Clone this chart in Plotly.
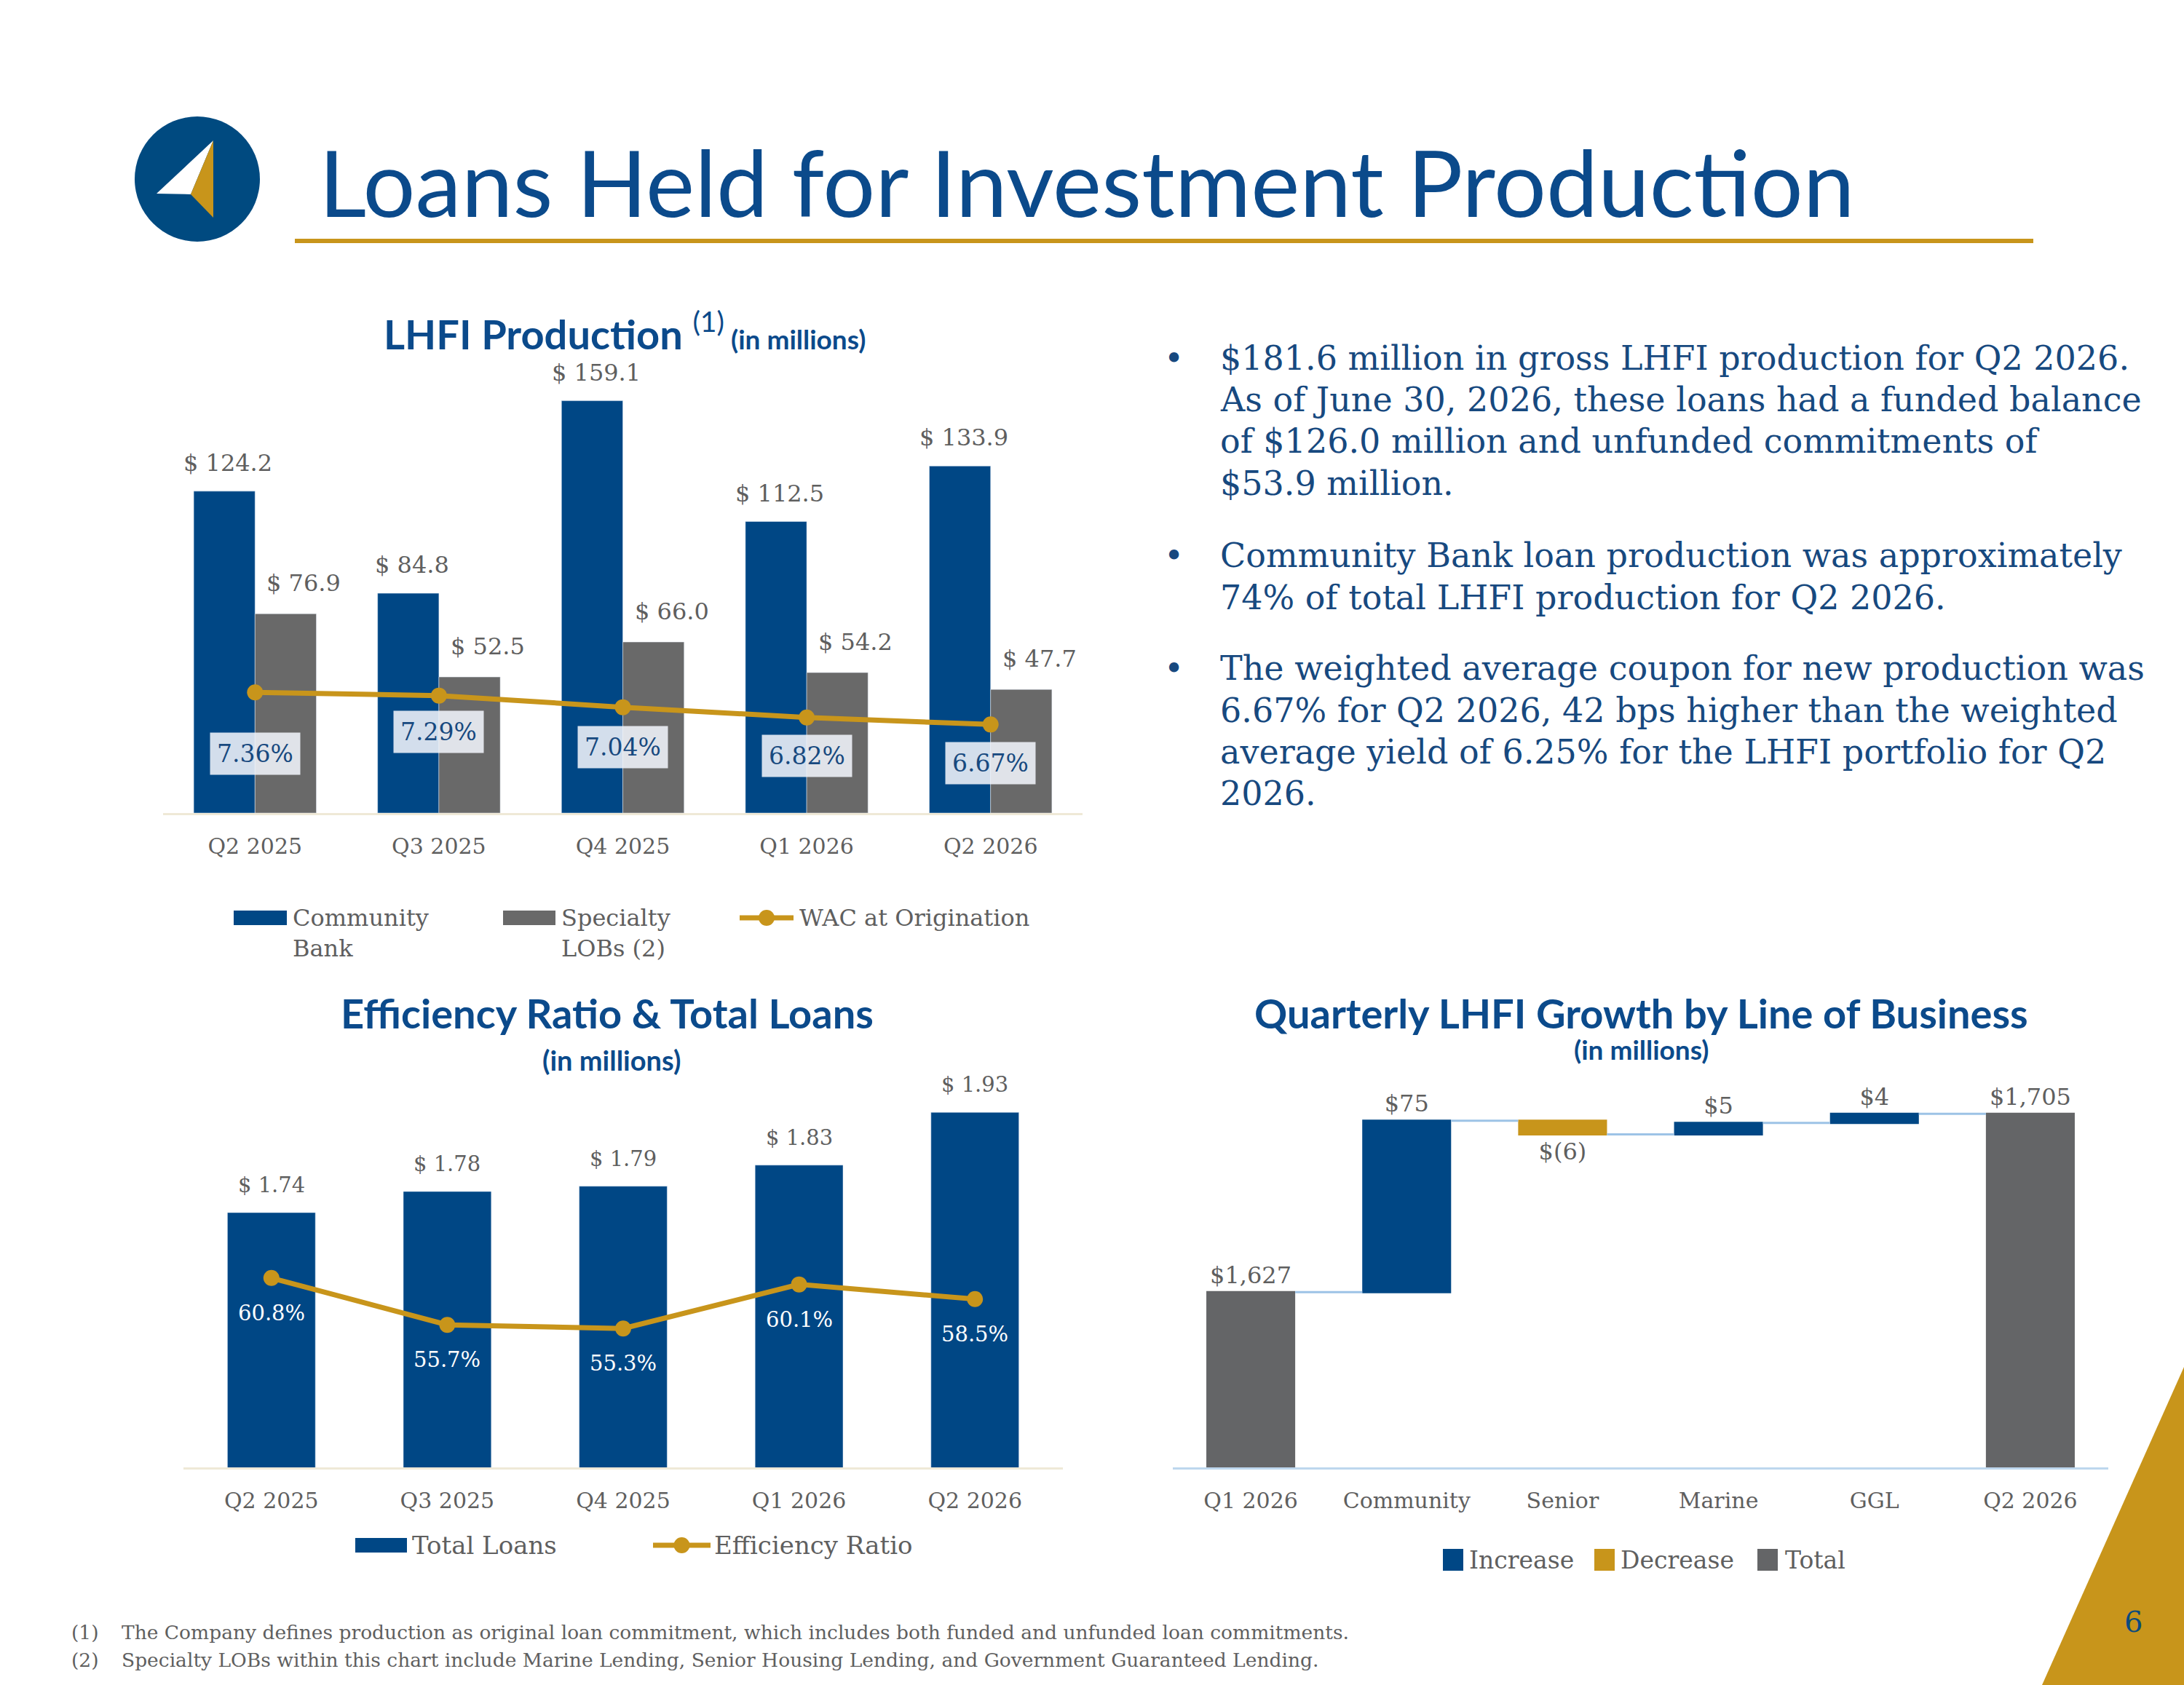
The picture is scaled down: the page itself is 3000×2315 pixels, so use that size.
import plotly.graph_objects as go

W, H = 3000, 2315


def X(px):
    return px / W


def Y(py):
    return 1 - py / H


# ---------------- data ----------------
quarters = ["Q2 2025", "Q3 2025", "Q4 2025", "Q1 2026", "Q2 2026"]
community_bank = [124.2, 84.8, 159.1, 112.5, 133.9]
specialty_lobs = [76.9, 52.5, 66.0, 54.2, 47.7]
wac_origination = [7.36, 7.29, 7.04, 6.82, 6.67]

total_loans = [1.74, 1.78, 1.79, 1.83, 1.93]
efficiency_ratio = [60.8, 55.7, 55.3, 60.1, 58.5]

lob_categories = ["Q1 2026", "Community", "Senior", "Marine", "GGL", "Q2 2026"]
lob_measures = ["absolute", "relative", "relative", "relative", "relative", "total"]
lob_values = [1627, 75, -6, 5, 4, None]

# style-only offsets for the WAC labels (pixels)
wac_label_shift = [-84, -50, -55, -53, -53]

# ---------------- styles ----------------
BLUE = "#004785"
GRAY = "#696969"
WF_GRAY = "#646567"
GOLD = "#C8951B"
TITLE_BLUE = "#0B4A8B"
TEXT_BLUE = "#17497F"
LABEL_GRAY = "#5F5F5F"
SERIF = "DejaVu Serif, Liberation Serif, serif"
SANS = "Lato, Open Sans, sans-serif"

fig = go.Figure()

# ---------------- chart 1: LHFI production ----------------
fig.add_trace(go.Bar(x=quarters, y=community_bank, name="Community Bank",
                     marker_color=BLUE, offset=-1/3, width=1/3,
                     xaxis="x", yaxis="y"))
fig.add_trace(go.Bar(x=quarters, y=specialty_lobs, name="Specialty LOBs (2)",
                     marker_color=GRAY, offset=0, width=1/3,
                     xaxis="x", yaxis="y"))
fig.add_trace(go.Scatter(x=quarters, y=wac_origination, name="WAC at Origination",
                         mode="lines+markers", line=dict(color=GOLD, width=7),
                         marker=dict(color=GOLD, size=22),
                         xaxis="x", yaxis="y2"))

# ---------------- chart 2: efficiency ratio & total loans ----------------
fig.add_trace(go.Bar(x=quarters, y=total_loans, name="Total Loans",
                     marker_color=BLUE, width=0.5,
                     xaxis="x2", yaxis="y3"))
fig.add_trace(go.Scatter(x=quarters, y=efficiency_ratio, name="Efficiency Ratio",
                         mode="lines+markers", line=dict(color=GOLD, width=7),
                         marker=dict(color=GOLD, size=22),
                         xaxis="x2", yaxis="y4"))

# ---------------- chart 3: waterfall ----------------
running = []
s = 0
for m, v in zip(lob_measures, lob_values):
    if m == "absolute":
        s = v
        running.append(s)
    elif m == "relative":
        s += v
        running.append(v)
    else:
        running.append(s)


def money(v):
    return "$({:,})".format(abs(v)) if v < 0 else "${:,}".format(v)


wf_text = [money(v) for v in running]

fig.add_trace(go.Waterfall(x=lob_categories, y=lob_values, measure=lob_measures,
                           text=wf_text, textposition="outside",
                           textfont=dict(family=SERIF, size=32, color=LABEL_GRAY),
                           constraintext="none",
                           increasing=dict(marker=dict(color=BLUE)),
                           decreasing=dict(marker=dict(color=GOLD)),
                           totals=dict(marker=dict(color=WF_GRAY)),
                           connector=dict(mode="between",
                                          line=dict(color="#9DC3E6", width=3)),
                           cliponaxis=False,
                           xaxis="x3", yaxis="y5"))

annotations = []

# chart 1 labels
for q, v in zip(quarters, community_bank):
    annotations.append(dict(x=q, y=v, xref="x", yref="y", text="$ {:.1f}".format(v),
                            showarrow=False, xshift=-37, yshift=39,
                            font=dict(family=SERIF, size=32, color=LABEL_GRAY)))
for q, v in zip(quarters, specialty_lobs):
    annotations.append(dict(x=q, y=v, xref="x", yref="y", text="$ {:.1f}".format(v),
                            showarrow=False, xshift=67, yshift=42,
                            font=dict(family=SERIF, size=32, color=LABEL_GRAY)))
for q, v, sh in zip(quarters, wac_origination, wac_label_shift):
    annotations.append(dict(x=q, y=v, xref="x", yref="y2", text="{:.2f}%".format(v),
                            showarrow=False, yshift=sh,
                            bgcolor="rgba(240,244,250,0.88)", borderpad=9,
                            font=dict(family=SERIF, size=33, color=TEXT_BLUE)))

# chart 2 labels
for q, v in zip(quarters, total_loans):
    annotations.append(dict(x=q, y=v, xref="x2", yref="y3", text="$ {:.2f}".format(v),
                            showarrow=False, yshift=38,
                            font=dict(family=SERIF, size=29, color=LABEL_GRAY)))
for q, v in zip(quarters, efficiency_ratio):
    annotations.append(dict(x=q, y=v, xref="x2", yref="y4", text="{:.1f}%".format(v),
                            showarrow=False, yshift=-48,
                            font=dict(family=SERIF, size=29, color="white")))


def paper_text(x, y, text, size, color, family=SERIF, xanchor="left", yanchor="middle", align="left"):
    annotations.append(dict(x=X(x), y=Y(y), xref="paper", yref="paper", text=text,
                            showarrow=False, xanchor=xanchor, yanchor=yanchor, align=align,
                            font=dict(family=family, size=size, color=color)))


# page title
paper_text(436, 249, "Loans Held for Investment Production", 127, TITLE_BLUE, family=SANS)

# chart titles
paper_text(858, 455,
           "<b>LHFI Production </b><sup>(1)</sup><span style='font-size:37px'><b> (in millions)</b></span>",
           56, TITLE_BLUE, family=SANS, xanchor="center")
paper_text(834, 1391, "<b>Efficiency Ratio & Total Loans</b>", 56, TITLE_BLUE, family=SANS, xanchor="center")
paper_text(840, 1456, "<b>(in millions)</b>", 38, TITLE_BLUE, family=SANS, xanchor="center")
paper_text(2254, 1391, "<b>Quarterly LHFI Growth by Line of Business</b>", 56, TITLE_BLUE, family=SANS,
           xanchor="center")
paper_text(2254, 1441, "<b>(in millions)</b>", 37, TITLE_BLUE, family=SANS, xanchor="center")

# bullets
bullet_paragraphs = [
    ["$181.6 million in gross LHFI production for Q2 2026.",
     "As of June 30, 2026, these loans had a funded balance",
     "of $126.0 million and unfunded commitments of",
     "$53.9 million."],
    ["Community Bank loan production was approximately",
     "74% of total LHFI production for Q2 2026."],
    ["The weighted average coupon for new production was",
     "6.67% for Q2 2026, 42 bps higher than the weighted",
     "average yield of 6.25% for the LHFI portfolio for Q2",
     "2026."],
]
line_y = [[492, 549, 606, 664], [763, 821], [918, 976, 1033, 1090]]
for para, ys in zip(bullet_paragraphs, line_y):
    paper_text(1613, ys[0], "•", 46, TEXT_BLUE, xanchor="center")
    for line, yy in zip(para, ys):
        paper_text(1674, yy, line, 46, TEXT_BLUE)

# legends (manual)
shapes = []


def rect(x0, y0, x1, y1, color):
    shapes.append(dict(type="rect", xref="paper", yref="paper", x0=X(x0), x1=X(x1), y0=Y(y1), y1=Y(y0),
                       fillcolor=color, line=dict(width=0)))


def line_marker(x0, x1, y, color):
    shapes.append(dict(type="line", xref="paper", yref="paper", x0=X(x0), x1=X(x1), y0=Y(y), y1=Y(y),
                       line=dict(color=color, width=7)))
    xc = (x0 + x1) / 2
    shapes.append(dict(type="circle", xref="paper", yref="paper", x0=X(xc - 11), x1=X(xc + 11),
                       y0=Y(y + 11), y1=Y(y - 11), fillcolor=color, line=dict(width=0)))


rect(321, 1251, 394, 1271, BLUE)
paper_text(400, 1240, "Community<br>Bank", 32, LABEL_GRAY, yanchor="top")
rect(691, 1251, 763, 1271, GRAY)
paper_text(769, 1240, "Specialty<br>LOBs (2)", 32, LABEL_GRAY, yanchor="top")
line_marker(1016, 1090, 1261, GOLD)
paper_text(1096, 1261, "WAC at Origination", 32, LABEL_GRAY)

rect(488, 2113, 559, 2133, BLUE)
paper_text(564, 2123, "Total Loans", 34, LABEL_GRAY)
line_marker(897, 976, 2123, GOLD)
paper_text(979, 2123, "Efficiency Ratio", 34, LABEL_GRAY)

rect(1982, 2128, 2010, 2158, BLUE)
paper_text(2016, 2143, "Increase", 33, LABEL_GRAY)
rect(2190, 2128, 2218, 2158, GOLD)
paper_text(2224, 2143, "Decrease", 33, LABEL_GRAY)
rect(2414, 2128, 2442, 2158, WF_GRAY)
paper_text(2450, 2143, "Total", 33, LABEL_GRAY)

# footnotes
paper_text(96, 2242, "(1)", 26.5, LABEL_GRAY)
paper_text(165, 2242, "The Company defines production as original loan commitment, which includes both funded and unfunded loan commitments.", 26.5, LABEL_GRAY)
paper_text(96, 2280, "(2)", 26.5, LABEL_GRAY)
paper_text(165, 2280, "Specialty LOBs within this chart include Marine Lending, Senior Housing Lending, and Government Guaranteed Lending.", 26.5, LABEL_GRAY)

# decorations: logo, underline, corner triangle, page number
shapes.append(dict(type="circle", xref="paper", yref="paper", x0=X(185), x1=X(357), y0=Y(332), y1=Y(160),
                   fillcolor="#004A80", line=dict(width=0)))
shapes.append(dict(type="path", xref="paper", yref="paper",
                   path="M {},{} L {},{} L {},{} Z".format(X(293), Y(193), X(215), Y(266), X(262), Y(267)),
                   fillcolor="white", line=dict(width=0)))
shapes.append(dict(type="path", xref="paper", yref="paper",
                   path="M {},{} L {},{} L {},{} Z".format(X(293), Y(193), X(262), Y(267), X(293), Y(299)),
                   fillcolor=GOLD, line=dict(width=0)))
shapes.append(dict(type="line", xref="paper", yref="paper", x0=X(405), x1=X(2793), y0=Y(331), y1=Y(331),
                   line=dict(color=GOLD, width=6)))
shapes.append(dict(type="path", xref="paper", yref="paper",
                   path="M {},{} L {},{} L {},{} Z".format(X(3000), Y(1878), X(3000), Y(2315), X(2805), Y(2315)),
                   fillcolor=GOLD, line=dict(width=0)))
paper_text(2930, 2228, "6", 40, "#0B4A7D", xanchor="center")

xaxis_common = dict(type="category", showgrid=False, zeroline=False, showline=True,
                    ticks="", ticklabelstandoff=17,
                    tickfont=dict(family=SERIF, size=30, color=LABEL_GRAY), fixedrange=True)

fig.update_layout(
    width=W, height=H, margin=dict(l=0, r=0, t=0, b=0), autosize=False,
    paper_bgcolor="white", plot_bgcolor="rgba(0,0,0,0)",
    showlegend=False, hovermode=False, waterfallgap=0.43,
    xaxis=dict(domain=[X(224), X(1487)], anchor="y", linecolor="#EFE9D7", linewidth=3, **xaxis_common),
    yaxis=dict(domain=[Y(1117), Y(494)], range=[0, 175], visible=False, fixedrange=True),
    yaxis2=dict(overlaying="y", range=[4.77, 14.5], visible=False, fixedrange=True),
    xaxis2=dict(domain=[X(252), X(1460)], anchor="y3", linecolor="#EFE9D7", linewidth=3, **xaxis_common),
    yaxis3=dict(domain=[Y(2016), Y(1500)], range=[1.257, 1.969], visible=False, fixedrange=True),
    yaxis4=dict(overlaying="y3", range=[40.2, 81.05], visible=False, fixedrange=True),
    xaxis3=dict(domain=[X(1611), X(2896)], anchor="y5", linecolor="#BDD7EE", linewidth=3, **xaxis_common),
    yaxis5=dict(domain=[Y(2016), Y(1470)], range=[1550.3, 1724.2], visible=False, fixedrange=True),
    annotations=annotations,
    shapes=shapes,
)

fig.write_html("out.html")
